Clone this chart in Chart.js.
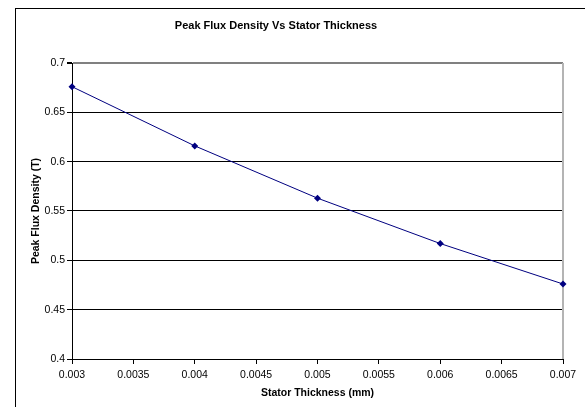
<!DOCTYPE html>
<html>
<head>
<meta charset="utf-8">
<script src="https://cdn.jsdelivr.net/npm/chart.js@4"></script>
<style>
  html, body { margin: 0; padding: 0; background: #fff; overflow: hidden; }
  #wrap { width: 585px; height: 407px; }
</style>
</head>
<body>
<div id="wrap"><canvas id="chart" width="585" height="407"></canvas></div>
<script>
// chart data
const chartTitle = 'Peak Flux Density Vs Stator Thickness';
const thickness = [0.003, 0.004, 0.005, 0.006, 0.007];
const fluxDensity = [0.676, 0.616, 0.563, 0.517, 0.476];
const xTicks = ['0.003', '0.0035', '0.004', '0.0045', '0.005', '0.0055', '0.006', '0.0065', '0.007'];
const yTicks = ['0.4', '0.45', '0.5', '0.55', '0.6', '0.65', '0.7'];

const font = 'Liberation Sans';

// outer frame, plot border and title, excel style
const framePlugin = {
    id: 'frame',
    beforeDraw(c) {
        const ctx = c.ctx;
        ctx.save();
        ctx.fillStyle = '#fff';
        ctx.fillRect(0, 0, c.width, c.height);
        ctx.strokeStyle = '#000';
        ctx.lineWidth = 1;
        ctx.strokeRect(15.5, 8.5, 600, 450);
        ctx.restore();
    },
    beforeDatasetsDraw(c) {
        const a = c.chartArea;
        const ctx = c.ctx;
        ctx.save();
        ctx.strokeStyle = '#b4b4b4';
        ctx.lineWidth = 2;
        ctx.beginPath();
        ctx.moveTo(a.right, a.top);
        ctx.lineTo(a.right, a.bottom);
        ctx.stroke();
        ctx.restore();
    },
    afterDraw(c) {
        const ctx = c.ctx;
        ctx.save();
        ctx.font = 'bold 11px "' + font + '"';
        ctx.fillStyle = '#000';
        ctx.textAlign = 'center';
        ctx.textBaseline = 'middle';
        ctx.fillText(chartTitle, 276, 26);
        ctx.restore();
    }
};

new Chart(document.querySelector('#chart').getContext('2d'), {
    type: 'line',
    data: {
        datasets: [{
            data: thickness.map((x, i) => ({ x: x, y: fluxDensity[i] })),
            borderColor: '#000080',
            backgroundColor: '#000080',
            borderWidth: 1,
            pointStyle: 'rectRot',
            pointRadius: 3.5,
            pointBorderWidth: 0,
            tension: 0,
            clip: 6
        }]
    },
    options: {
        responsive: false,
        animation: false,
        layout: { padding: { top: 63, right: 22, bottom: 0, left: 0 } },
        plugins: {
            legend: { display: false },
            tooltip: { enabled: false }
        },
        scales: {
            x: {
                type: 'linear',
                min: 0.003,
                max: 0.007,
                afterFit: s => { s.height = 48; },
                afterBuildTicks: s => { s.ticks = xTicks.map(v => ({ value: parseFloat(v) })); },
                ticks: {
                    callback: (v, i) => xTicks[i],
                    color: '#000',
                    font: { family: font, size: 10.5 },
                    padding: 5,
                    maxRotation: 0,
                    autoSkip: false
                },
                grid: {
                    drawOnChartArea: false,
                    color: '#000',
                    tickColor: '#000',
                    tickLength: 5
                },
                border: { color: '#000', width: 1 },
                title: {
                    display: true,
                    text: 'Stator Thickness (mm)',
                    color: '#000',
                    font: { family: font, size: 10.5, weight: 'bold' },
                    padding: { top: 0, bottom: 8 }
                }
            },
            y: {
                min: 0.4,
                max: 0.7,
                afterFit: s => { s.width = 72; },
                afterBuildTicks: s => { s.ticks = yTicks.map(v => ({ value: parseFloat(v) })); },
                ticks: {
                    callback: (v, i) => yTicks[i],
                    color: '#000',
                    font: { family: font, size: 10.5 },
                    padding: 2
                },
                grid: {
                    color: ctx => (ctx.tick && ctx.tick.value === 0.7) ? '#808080' : '#000',
                    lineWidth: ctx => (ctx.tick && ctx.tick.value === 0.7) ? 2 : 1,
                    tickColor: '#000',
                    tickLength: 5
                },
                border: { color: '#000', width: 1 },
                title: {
                    display: true,
                    text: 'Peak Flux Density (T)',
                    color: '#000',
                    font: { family: font, size: 10.5, weight: 'bold' },
                    padding: { top: 30, bottom: 0 }
                }
            }
        }
    },
    plugins: [framePlugin]
});
</script>
</body>
</html>
